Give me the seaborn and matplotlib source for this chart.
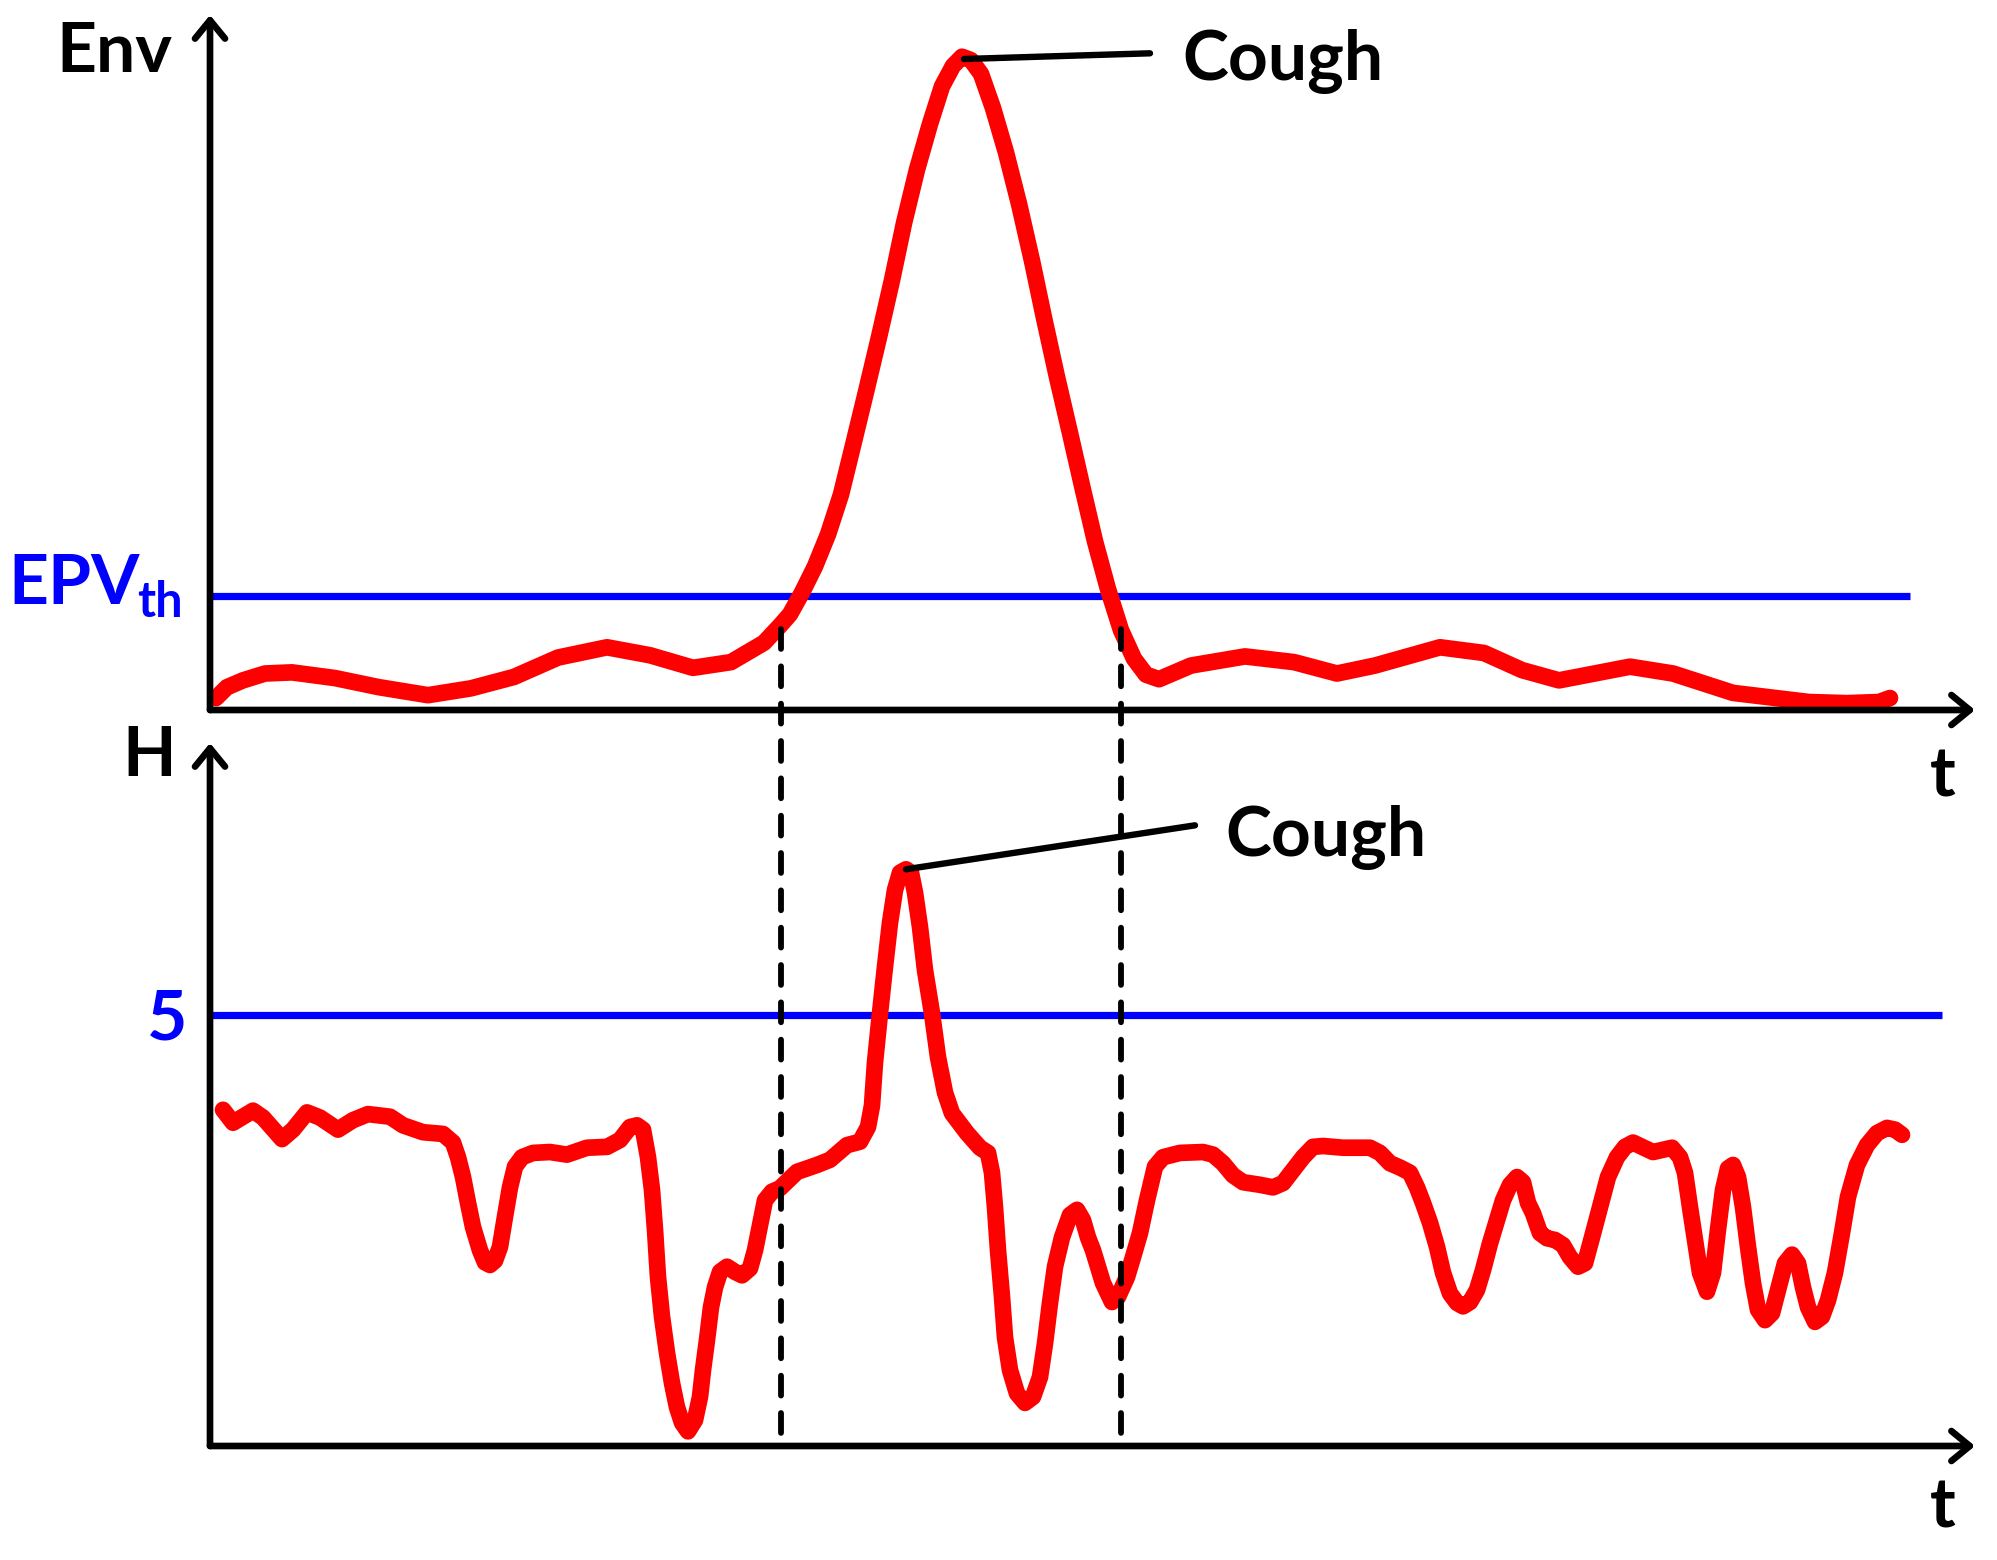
import numpy as np
import pandas as pd
import matplotlib.pyplot as plt
import seaborn as sns
from matplotlib.patches import ConnectionPatch

# envelope (top panel), threshold EPV_th = 1
t_env = [0.06, 0.17, 0.33, 0.55, 0.82, 1.25, 1.69, 2.18, 2.61, 3.04, 3.48, 3.97,
         4.40, 4.83, 5.21, 5.54, 5.70, 5.80, 5.92, 6.05, 6.18, 6.31, 6.43, 6.56,
         6.69, 6.82, 6.94, 7.07, 7.20, 7.32, 7.43, 7.52, 7.61, 7.71, 7.83, 7.96,
         8.09, 8.22, 8.34, 8.47, 8.60, 8.73, 8.85, 8.98, 9.11, 9.24, 9.36, 9.49,
         9.81, 10.35, 10.84, 11.27, 11.65, 12.30, 12.74, 13.12, 13.49, 14.20, 14.63,
         15.23, 15.99, 16.37, 16.69, 16.80]
env = [0.105, 0.20, 0.26, 0.32, 0.33, 0.28, 0.20, 0.13, 0.19, 0.29, 0.46, 0.55,
       0.48, 0.37, 0.42, 0.59, 0.74, 0.84, 1.03, 1.26, 1.54, 1.89, 2.32, 2.79,
       3.27, 3.77, 4.27, 4.74, 5.14, 5.47, 5.65, 5.73, 5.70, 5.58, 5.28, 4.89,
       4.44, 3.94, 3.44, 2.92, 2.43, 1.93, 1.48, 1.06, 0.70, 0.45, 0.31, 0.27,
       0.39, 0.47, 0.42, 0.32, 0.39, 0.55, 0.50, 0.35, 0.26, 0.38, 0.32,
       0.15, 0.07, 0.06, 0.07, 0.105]

# entropy H (bottom panel), threshold 5
t_h = [0.13, 0.23, 0.33, 0.43, 0.53, 0.72, 0.83, 0.97, 1.10, 1.28, 1.43, 1.58,
       1.80, 1.93, 2.13, 2.33, 2.43, 2.48, 2.53, 2.58, 2.63, 2.70, 2.75, 2.80,
       2.85, 2.90, 2.95, 3.00, 3.05, 3.12, 3.23, 3.40, 3.57, 3.77, 3.97, 4.10,
       4.20, 4.27, 4.33, 4.38, 4.42, 4.45, 4.48, 4.52, 4.57, 4.62, 4.67, 4.72,
       4.78, 4.85, 4.90, 4.93, 4.97, 5.01, 5.05, 5.10, 5.17, 5.25, 5.32, 5.40,
       5.45, 5.50, 5.55, 5.62, 5.70, 5.87, 6.07, 6.20, 6.37, 6.50, 6.58, 6.62,
       6.65, 6.70, 6.75, 6.80, 6.85, 6.90, 6.96, 7.01, 7.05, 7.10, 7.15, 7.22,
       7.28, 7.35, 7.42, 7.57, 7.70, 7.78, 7.82, 7.85, 7.88, 7.92, 7.95, 8.00,
       8.07, 8.15, 8.23, 8.30, 8.35, 8.40, 8.45, 8.52, 8.60, 8.67, 8.73, 8.78,
       8.83, 8.93, 9.02, 9.08, 9.17, 9.23, 9.30, 9.37, 9.45, 9.53, 9.70, 9.93,
       10.03, 10.13, 10.23, 10.33, 10.50, 10.63, 10.73, 10.83, 10.93, 11.03, 11.13, 11.33,
       11.60, 11.70, 11.80, 11.90, 12.00, 12.07, 12.13, 12.20, 12.27, 12.33, 12.40, 12.47,
       12.53, 12.60, 12.67, 12.73, 12.80, 12.87, 12.93, 13.00, 13.07, 13.13, 13.18, 13.23,
       13.30, 13.37, 13.45, 13.53, 13.60, 13.68, 13.75, 13.82, 13.90, 13.98, 14.07, 14.15,
       14.23, 14.43, 14.62, 14.70, 14.75, 14.80, 14.85, 14.90, 14.97, 15.03, 15.08, 15.13,
       15.18, 15.23, 15.28, 15.33, 15.38, 15.43, 15.48, 15.55, 15.62, 15.68, 15.75, 15.82,
       15.88, 15.93, 15.98, 16.05, 16.12, 16.18, 16.25, 16.32, 16.38, 16.47, 16.57, 16.67,
       16.77, 16.85, 16.92]
h = [3.90, 3.75, 3.82, 3.89, 3.81, 3.56, 3.67, 3.87, 3.81, 3.67, 3.78, 3.85,
     3.82, 3.72, 3.64, 3.62, 3.52, 3.35, 3.12, 2.82, 2.54, 2.27, 2.13, 2.10,
     2.15, 2.31, 2.66, 3.00, 3.24, 3.35, 3.40, 3.41, 3.38, 3.46, 3.47, 3.55,
     3.70, 3.72, 3.67, 3.35, 2.97, 2.51, 1.96, 1.50, 1.08, 0.73, 0.45, 0.27,
     0.17, 0.30, 0.57, 0.88, 1.23, 1.61, 1.84, 2.02, 2.08, 2.02, 1.98, 2.06,
     2.27, 2.56, 2.85, 2.95, 2.99, 3.18, 3.26, 3.32, 3.49, 3.53, 3.70, 3.95,
     4.45, 5.02, 5.56, 6.07, 6.45, 6.65, 6.69, 6.65, 6.42, 6.02, 5.52, 5.02,
     4.51, 4.10, 3.86, 3.63, 3.46, 3.40, 3.17, 2.77, 2.27, 1.73, 1.26, 0.88,
     0.61, 0.50, 0.57, 0.80, 1.19, 1.66, 2.08, 2.42, 2.68, 2.74, 2.62, 2.42,
     2.27, 1.89, 1.67, 1.73, 1.96, 2.19, 2.47, 2.85, 3.24, 3.35, 3.40, 3.41,
     3.38, 3.28, 3.14, 3.06, 3.03, 3.00, 3.05, 3.20, 3.35, 3.47, 3.48, 3.46,
     3.46, 3.40, 3.28, 3.23, 3.17, 3.00, 2.82, 2.59, 2.31, 2.01, 1.77, 1.66,
     1.62, 1.67, 1.81, 2.04, 2.35, 2.62, 2.85, 3.03, 3.12, 3.06, 2.82, 2.70,
     2.47, 2.41, 2.39, 2.33, 2.19, 2.08, 2.12, 2.42, 2.77, 3.12, 3.35, 3.47,
     3.52, 3.41, 3.46, 3.35, 3.17, 2.77, 2.39, 2.01, 1.79, 2.01, 2.51, 2.97,
     3.22, 3.26, 3.12, 2.77, 2.31, 1.89, 1.58, 1.46, 1.54, 1.81, 2.12, 2.22,
     2.12, 1.84, 1.61, 1.44, 1.50, 1.69, 2.01, 2.47, 2.89, 3.26, 3.49, 3.63,
     3.69, 3.67, 3.61]

env_th = 1.0
h_th = 5
cough_t = [5.71, 9.11]     # start / end of the detected cough
dash_top = 0.71

sns.set_theme(style='white')
plt.rcParams['font.family'] = ['Lato', 'DejaVu Sans']
plt.rcParams['text.color'] = 'black'

W, H = 1997, 1560
fig = plt.figure(figsize=(W / 100, H / 100), dpi=100)
ax1 = fig.add_axes([210 / W, 1 - 710 / H, 1765 / W, 695 / H])
ax2 = fig.add_axes([210 / W, 1 - 1446 / H, 1765 / W, 703 / H])

ax1.set_xlim(0, 17.65)
ax1.set_ylim(0, 6.096)
ax2.set_xlim(0, 17.65)
ax2.set_ylim(0, 8.155)

arrow_kw = dict(arrowstyle='->,head_length=0.55,head_width=0.45', lw=4.8,
                color='black', shrinkA=0, shrinkB=0, mutation_scale=24,
                capstyle='round', joinstyle='round')
for ax in (ax1, ax2):
    ax.axis('off')
    ax.annotate('', xy=(1, 0), xytext=(0, 0), xycoords='axes fraction', arrowprops=arrow_kw)
    ax.annotate('', xy=(0, 1), xytext=(0, 0), xycoords='axes fraction', arrowprops=arrow_kw)

# thresholds
ax1.hlines(env_th, 0, 17.0, color='#0000ff', lw=5.2)
ax2.hlines(h_th, 0, 17.32, color='#0000ff', lw=5.2)

# signals
sns.lineplot(x=t_env, y=env, ax=ax1, color='#ff0000', linewidth=12,
             solid_capstyle='round', solid_joinstyle='round', clip_on=False)
sns.lineplot(x=t_h, y=h, ax=ax2, color='#ff0000', linewidth=12,
             solid_capstyle='round', solid_joinstyle='round', clip_on=False)

# dashed cough boundaries across both panels
for tv in cough_t:
    con = ConnectionPatch(xyA=(tv, dash_top), coordsA=ax1.transData,
                          xyB=(tv, 0), coordsB=ax2.transData,
                          linestyle=(0, (3.4, 3.0)), lw=4.2, color='black',
                          capstyle='round')
    fig.add_artist(con)

# "Cough" labels with leader lines
ax1.plot([7.54, 9.40], [5.71, 5.76], color='black', lw=4.6, clip_on=False)
ax1.text(9.72, 5.53, 'Cough', fontsize=50, fontweight='bold', va='baseline', ha='left')
ax2.plot([6.96, 9.85], [6.69, 7.20], color='black', lw=4.6, clip_on=False)
ax2.text(10.15, 6.84, 'Cough', fontsize=50, fontweight='bold', va='baseline', ha='left')

# axis labels
big = dict(fontsize=50, fontweight='bold', va='baseline')
fig.text(172 / W, 1 - 72 / H, 'Env', ha='right', **big)
fig.text(176 / W, 1 - 776 / H, 'H', ha='right', **big)
fig.text(140 / W, 1 - 604 / H, 'EPV', ha='right', color='#0000ff', **big)
fig.text(183 / W, 1 - 617 / H, 'th', ha='right', color='#0000ff', fontsize=35,
         fontweight='bold', va='baseline')
fig.text(187 / W, 1 - 1039 / H, '5', ha='right', color='#0000ff', **big)
fig.text(1943 / W, 1 - 797 / H, 't', ha='center', **big)
fig.text(1943 / W, 1 - 1528 / H, 't', ha='center', **big)

fig.savefig('out.png', dpi=100)
